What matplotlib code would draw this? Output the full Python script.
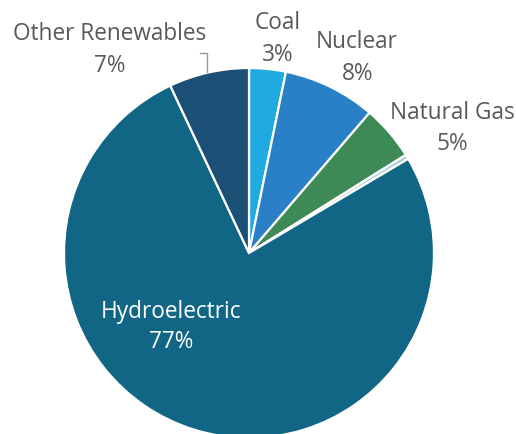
import matplotlib
matplotlib.use("Agg")
import matplotlib.pyplot as plt

categories = ["Coal", "Nuclear", "Natural Gas", "Petroleum", "Hydroelectric", "Other Renewables"]
values = [3.2, 8.1, 4.8, 0.4, 76.5, 7.0]
pct_labels = ["3%", "8%", "5%", "", "77%", "7%"]
colors = ["#1faae2", "#2a80c6", "#3e8a57", "#a9d3d6", "#116685", "#1b4f75"]

W, H = 516, 434
R = 185.0
CX, CY = 249, 253

fig = plt.figure(figsize=(W / 100, H / 100), dpi=100)
ax = fig.add_axes([0, 0, 1, 1])
ax.axis("off")

ax.pie(values, colors=colors, startangle=90, counterclock=False, radius=1,
       wedgeprops=dict(edgecolor="white", linewidth=1.6))
ax.set_xlim(-CX / R, (W - CX) / R)
ax.set_ylim(-(H - CY) / R, CY / R)
ax.set_aspect("auto")

def d(px, py):
    return (px - CX) / R, (CY - py) / R

font = ["Open Sans", "DejaVu Sans"]
gray = "#595959"
FS = 16.3
label_pos = {
    "Coal": ((278, 23), (278, 55)),
    "Nuclear": ((357, 42), (358, 74)),
    "Natural Gas": ((452, 113), (452, 144)),
    "Other Renewables": ((110, 34), (110, 66)),
}
for i, cat in enumerate(categories):
    if cat in label_pos:
        (nx, ny), (px, py) = label_pos[cat]
        ax.text(*d(nx, ny), cat, ha="center", va="center", fontsize=FS, color=gray, family=font)
        ax.text(*d(px, py), pct_labels[i], ha="center", va="center", fontsize=FS, color=gray, family=font)

ax.text(*d(171, 312), "Hydroelectric", ha="center", va="center", fontsize=FS, color="white", family=font)
ax.text(*d(171, 342), pct_labels[4], ha="center", va="center", fontsize=FS, color="white", family=font)

# leader line for Other Renewables
pts = [d(200, 53), d(207, 53), d(207, 72)]
ax.plot([p[0] for p in pts], [p[1] for p in pts], color="#999999", linewidth=1)

fig.savefig("out.png", dpi=100)
